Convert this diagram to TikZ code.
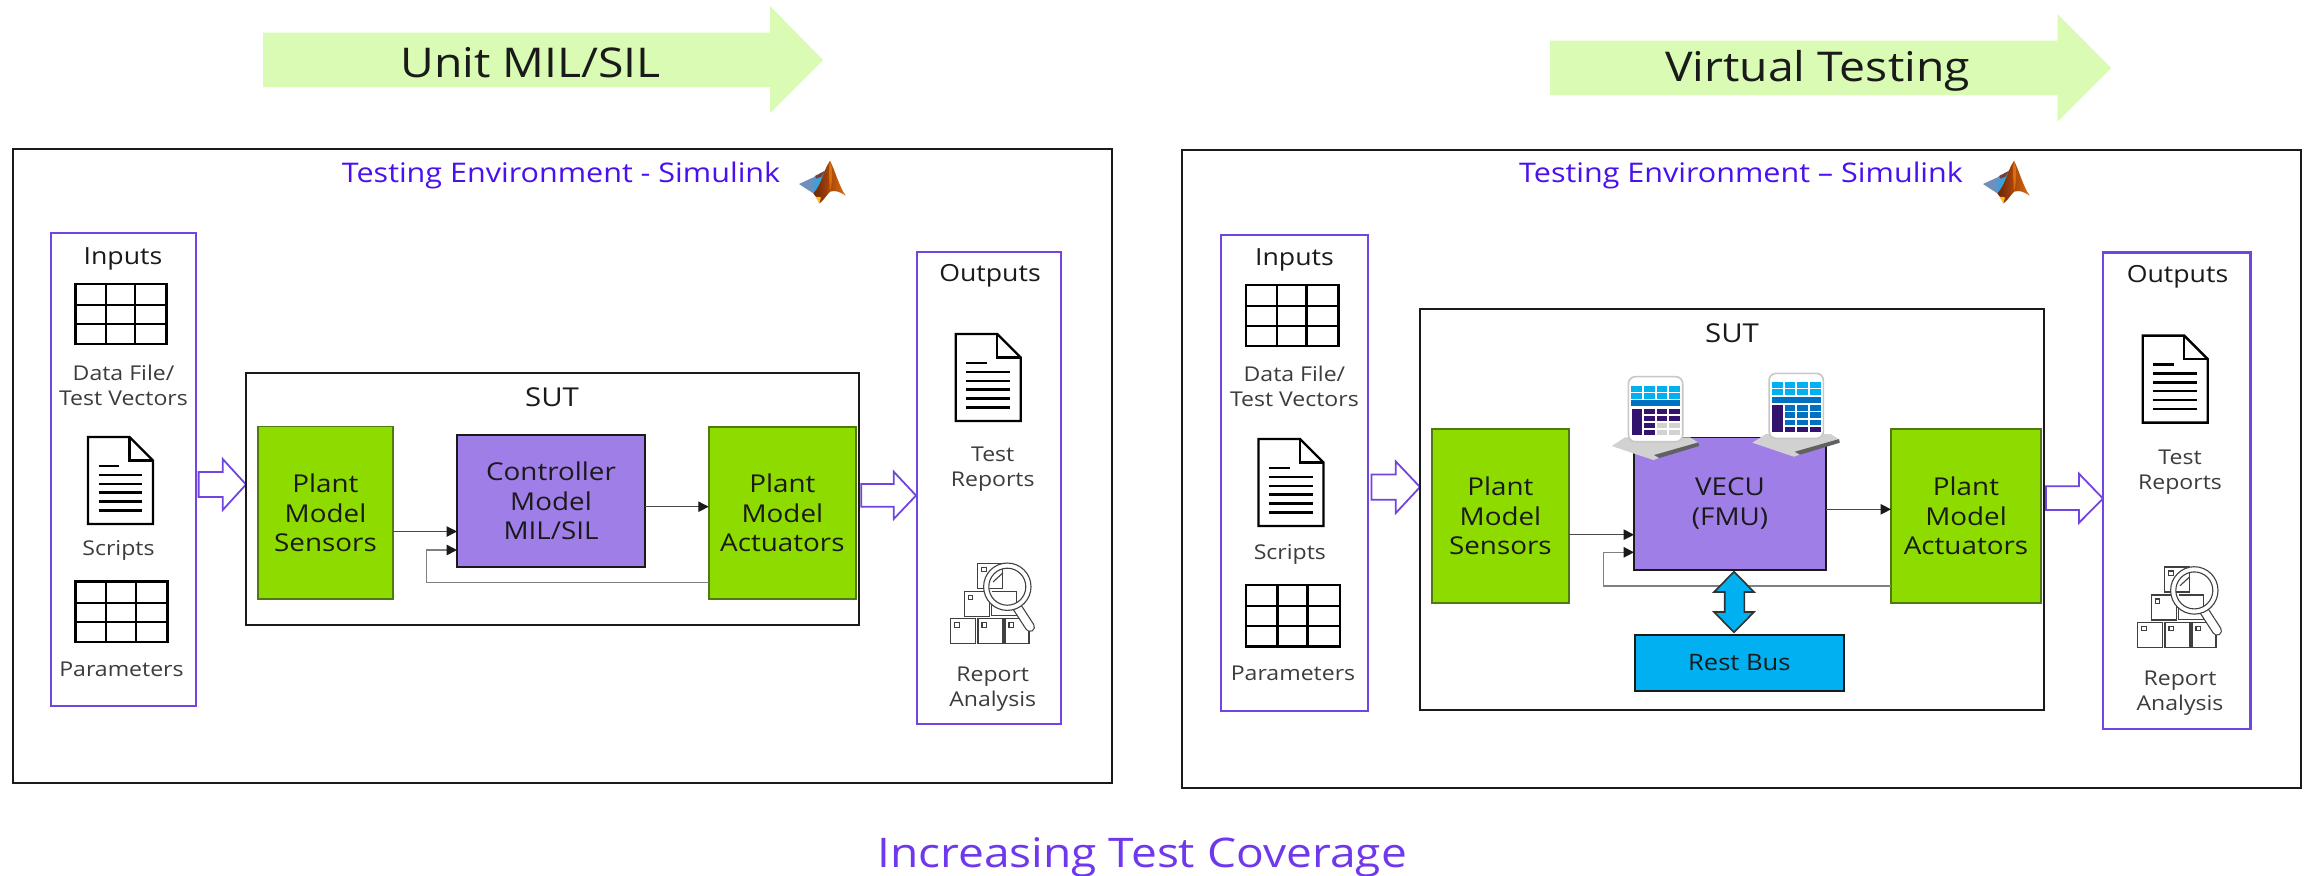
\documentclass[tikz,border=0pt]{standalone}
\usepackage{fontspec}
\setmainfont[FakeStretch=1.13]{Open Sans}
\usetikzlibrary{arrows.meta,calc}
\definecolor{envpurple}{HTML}{4A10EE}
\definecolor{framepurple}{HTML}{7045E0}
\definecolor{covpurple}{HTML}{7038EC}
\definecolor{plantgreen}{HTML}{8EDB00}
\definecolor{plantedge}{HTML}{4F7A10}
\definecolor{ctrlpurple}{HTML}{A07EE8}
\definecolor{busblue}{HTML}{00B0F0}
\definecolor{midblue}{HTML}{0070C0}
\definecolor{deeppurple}{HTML}{32136E}
\definecolor{cellgray}{HTML}{D2D2D2}
\definecolor{stagegreen}{HTML}{D9FBB4}
\definecolor{inkdark}{HTML}{1A1A1A}
\definecolor{wingblue}{HTML}{6E8FBF}
\definecolor{wingcyan}{HTML}{3F9FD8}
\definecolor{peakdark}{HTML}{6E2206}
\definecolor{peaklight}{HTML}{DE6C10}
\definecolor{peaktip}{HTML}{FFC20E}
\tikzset{
  x=0.5pt,y=-0.5pt,
  every node/.style={inner sep=0pt,outer sep=0pt,text=inkdark},
  envbox/.style={draw=inkdark,line width=1.1pt,fill=white},
  sutbox/.style={draw=inkdark,line width=0.9pt,fill=white},
  iobox/.style={draw=framepurple,line width=1.1pt,fill=white},
  plantbox/.style={draw=plantedge,line width=0.8pt,fill=plantgreen,align=center,font=\fontsize{12.3}{14.9}\selectfont},
  ctrlbox/.style={draw=inkdark,line width=0.8pt,fill=ctrlpurple,align=center,font=\fontsize{12.3}{14.9}\selectfont},
  busbox/.style={draw=inkdark,line width=0.9pt,fill=busblue,align=center,font=\fontsize{11.3}{14}\selectfont},
  smalltxt/.style={align=center,font=\fontsize{10.2}{12.6}\selectfont,text=inkdark!85,yshift=-0.8pt},
  headtxt/.style={align=center,font=\fontsize{11.8}{14}\selectfont,yshift=-1.2pt},
  suttxt/.style={align=center,font=\fontsize{13}{15}\selectfont},
  envtxt/.style={font=\fontsize{13.5}{16}\selectfont,text=envpurple,yshift=-1.2pt},
  stagetxt/.style={font=\fontsize{20.5}{24}\selectfont,yshift=-1.4pt},
  covtxt/.style={font=\fontsize{20.4}{25}\selectfont,text=covpurple,yshift=-1.8pt},
  conn/.style={draw=inkdark!80,line width=0.55pt,-{Triangle[length=5.2pt,width=5.2pt,color=inkdark,fill=inkdark]}},
  feedback/.style={draw=black!50,line width=0.75pt,-{Triangle[length=5.2pt,width=5.2pt,color=inkdark,fill=inkdark]}},
  hollowarrow/.style={draw=framepurple,line width=0.9pt,fill=white,line join=miter},
  stagearrow/.style={fill=stagegreen,draw=none},
  iconline/.style={draw=black,line width=1.2pt},
  thinicon/.style={draw=black!75,line width=0.55pt},
}
\newcommand{\boxnode}[7]{%
  \pgfmathsetmacro{\cxx}{(#3+#5)/2}\pgfmathsetmacro{\cyy}{(#4+#6)/2}%
  \node[#2,minimum width={(#5-(#3))*0.5pt},minimum height={(#6-(#4))*0.5pt}] (#1) at (\cxx,\cyy) {#7};}
\newcommand{\tableicon}[4]{%
  \draw[iconline] (#1,#2) rectangle (#3,#4);
  \foreach \cc in {0.335,0.655} {\draw[iconline] ($(#1,#2)!\cc!(#3,#2)$) -- ($(#1,#4)!\cc!(#3,#4)$);}
  \foreach \rr in {0.35,0.67} {\draw[iconline] ($(#1,#2)!\rr!(#1,#4)$) -- ($(#3,#2)!\rr!(#3,#4)$);}
}
\newcommand{\docicon}[2]{%
  \begin{scope}[shift={(#1,#2)}]
    \draw[iconline,line join=miter,fill=white] (0,0) -- (41.5,0) -- (65,23.5) -- (65,87) -- (0,87) -- cycle;
    \draw[iconline,line join=miter] (41.5,0) -- (41.5,23.5) -- (65,23.5);
    \draw[iconline] (10.5,29) -- (31,29);
    \foreach \yy in {38,47,55.5,64.5,73.5} {\draw[iconline] (10.5,\yy) -- (54,\yy);}
  \end{scope}}
\newcommand{\reporticon}[2]{%
  \begin{scope}[shift={(#1,#2)}]
    \foreach \bxx/\byy in {950.7/618.7,978/618.7,964.3/591.3,977.7/563.3} {
      \draw[thinicon] (\bxx,\byy) rectangle ++(25,25);
      \draw[thinicon] (\bxx+4,\byy+4) rectangle ++(4.5,4.5);}
    \draw[thinicon] (1005,618.7) rectangle (1029,643.7);
    \draw[thinicon] (1009,622.7) rectangle ++(4.5,4.5);
    \draw[thinicon] (991.7,591.3) rectangle (1016.7,615.7);
    \draw[black!75,line width=5pt,line cap=round] (1017,607) -- (1030,627);
    \draw[white,line width=3.8pt,line cap=round] (1017,607) -- (1030,627);
    \draw[thinicon,fill=white] (1007.3,586.7) circle (23.7);
    \draw[thinicon] (1007.3,586.7) circle (18.5);
    \begin{scope}
      \clip (1007.3,586.7) circle (18.5);
      \draw[thinicon] (1002.7,563.3) -- (1002.7,588.3) -- (977.7,588.3);
      \draw[thinicon] (993,582) -- (1002.7,573);
      \draw[thinicon] (991.7,591.3) -- (1016.7,591.3) -- (1016.7,610);
    \end{scope}
  \end{scope}}
\newcommand{\matlablogo}[2]{%
  \begin{scope}[shift={(780+#1,130+#2)},x=0.1667pt,y=-0.1667pt]
    \fill[wingblue] (57,162) -- (100,142) -- (112,135) -- (125,160) -- (100,190) -- cycle;
    \fill[peakdark!70!wingblue] (105,138) -- (135,122) -- (125,150) -- (112,150) -- cycle;
    \fill[wingcyan] (100,150) -- (125,140) -- (150,93) -- (125,160) -- (103,186) -- cycle;
    \shade[left color=peakdark,right color=peaklight]
      (150,93) .. controls (165,120) and (178,172) .. (197,197)
      .. controls (180,185) and (165,180) .. (150,185)
      .. controls (140,195) and (128,215) .. (118,220)
      .. controls (112,205) and (106,198) .. (100,190)
      .. controls (125,165) and (130,120) .. (150,93) -- cycle;
    \fill[peaklight] (150,93) .. controls (160,115) and (158,150) .. (150,185) .. controls (147,140) and (145,115) .. (150,93) -- cycle;
    \fill[peaktip] (107,200) -- (123,202) -- (118,220) -- cycle;
  \end{scope}}
\newcommand{\fmuicon}[7]{% dx dy rows12 r3c1 r3c23 r4c1 r4c23
  \begin{scope}[shift={(1580+#1,340+#2)},x=0.1667pt,y=-0.1667pt]
    \fill[black!18] (95,318) -- (135,292) -- (330,292) -- (355,308) -- (220,360) -- cycle;
    \fill[black!62] (222,345) -- (355,307) -- (357,318) -- (238,354) -- cycle;
    \draw[black!22,line width=0.8pt,fill=white,rounded corners=3.5pt] (145,110) rectangle (308,305);
    \foreach \cxa/\cxb in {153/187,192/224,230/262,267/300} {
      \fill[busblue] (\cxa,137) rectangle (\cxb,155);
      \fill[busblue] (\cxa,158) rectangle (\cxb,176);}
    \fill[midblue] (153,181) rectangle (300,199);
    \fill[deeppurple] (155,206) rectangle (187,286);
    \foreach \cxa/\cxb in {193/224,230/262,267/300} {
      \fill[#3] (\cxa,206) rectangle (\cxb,222);
      \fill[#3] (\cxa,227) rectangle (\cxb,244);}
    \fill[#4] (193,249) rectangle (224,265);
    \fill[#5] (230,249) rectangle (262,265);
    \fill[#5] (267,249) rectangle (300,265);
    \fill[#6] (193,270) rectangle (224,286);
    \fill[#7] (230,270) rectangle (262,286);
    \fill[#7] (267,270) rectangle (300,286);
  \end{scope}}
\begin{document}
\begin{tikzpicture}
\useasboundingbox (0,0) rectangle (2305,875);
\fill[white] (0,0) rectangle (2305,875);

% stage arrows
\fill[stagearrow] (263,32.7) -- (770,32.7) -- (770,6) -- (823,60) -- (770,113) -- (770,87) -- (263,87) -- cycle;
\node[stagetxt] (stageA) at (530.6,60) {Unit MIL/SIL};
\fill[stagearrow] (1550,40.7) -- (2057.5,40.7) -- (2057.5,14) -- (2111,68) -- (2057.5,121.7) -- (2057.5,95) -- (1550,95) -- cycle;
\node[stagetxt] (stageB) at (1817.5,68) {Virtual Testing};

% ---------- left panel ----------
\boxnode{envL}{envbox}{12.6}{149}{1111.7}{783}{}
\node[envtxt] (titleL) at (561,173.5) {Testing Environment - Simulink};
\matlablogo{0}{0}
\boxnode{inL}{iobox}{51}{233}{196}{706}{}
\node[headtxt] (inLh) at (123,256) {Inputs};
\tableicon{75.4}{284}{166.5}{344}
\node[smalltxt] (dataL) at (123.5,384) {Data File/\\Test Vectors};
\docicon{88}{437}
\node[smalltxt] (scrL) at (118.5,549) {Scripts};
\tableicon{75.4}{581.6}{167.6}{642}
\node[smalltxt] (parL) at (121.5,668) {Parameters};
\draw[hollowarrow] (198.6,472) -- (222.7,472) -- (222.7,459) -- (246,484.5) -- (222.7,510) -- (222.7,497) -- (198.6,497) -- cycle;

\boxnode{sutL}{sutbox}{246}{373}{859.3}{625}{}
\node[suttxt] (sutLt) at (552,397) {SUT};
\boxnode{senL}{plantbox}{258}{426.6}{393}{599}{Plant\\Model\\Sensors}
\boxnode{ctlL}{ctrlbox}{457}{435}{645}{566.7}{Controller\\Model\\MIL/SIL}
\boxnode{actL}{plantbox}{708.7}{426.7}{856}{599}{Plant\\Model\\Actuators}
\coordinate (yLa) at (0,531.5);
\coordinate (yLb) at (0,550);
\coordinate (yLc) at (0,506.7);
\coordinate (yLf) at (0,582.7);
\coordinate (xLf) at (426.7,0);
\draw[conn] (senL.east |- yLa) -- (ctlL.west |- yLa);
\draw[conn] (ctlL.east |- yLc) -- (actL.west |- yLc);
\draw[feedback] (actL.west |- yLf) -- (xLf |- yLf) -- (xLf |- yLb) -- (ctlL.west |- yLb);
\draw[hollowarrow] (861.3,484) -- (893.7,484) -- (893.7,471.7) -- (916,495.5) -- (893.7,519) -- (893.7,506.7) -- (861.3,506.7) -- cycle;

\boxnode{outL}{iobox}{916.7}{251.7}{1061}{723.7}{}
\node[headtxt] (outLh) at (990,273) {Outputs};
\docicon{955.7}{334}
\node[smalltxt] (repL) at (992.7,467.8) {Test\\Reports};
\reporticon{0}{0}
\node[smalltxt] (anaL) at (992.7,687.5) {Report\\Analysis};

% ---------- right panel ----------
\boxnode{envR}{envbox}{1182}{149.6}{2301}{788}{}
\node[envtxt] (titleR) at (1741,173.5) {Testing Environment – Simulink};
\matlablogo{1184}{0}
\boxnode{inR}{iobox}{1221}{235}{1368.3}{711}{}
\node[headtxt] (inRh) at (1294.4,257) {Inputs};
\tableicon{1245.8}{284.7}{1338.4}{346}
\node[smalltxt] (dataR) at (1294.4,385) {Data File/\\Test Vectors};
\docicon{1258.5}{439}
\node[smalltxt] (scrR) at (1289.8,553) {Scripts};
\tableicon{1245.8}{584.7}{1340}{646.3}
\node[smalltxt] (parR) at (1293,672) {Parameters};
\draw[hollowarrow] (1371.4,474.5) -- (1395.8,474.5) -- (1395.8,461.5) -- (1420,487) -- (1395.8,513) -- (1395.8,499.7) -- (1371.4,499.7) -- cycle;

\boxnode{sutR}{sutbox}{1420}{309}{2044}{710}{}
\node[suttxt] (sutRt) at (1732,333.6) {SUT};
\boxnode{senR}{plantbox}{1431.8}{429}{1569}{602.7}{Plant\\Model\\Sensors}
\boxnode{vecu}{ctrlbox}{1634}{437.3}{1826}{570}{VECU\\(FMU)}
\boxnode{actR}{plantbox}{1891}{429}{2041}{602.7}{Plant\\Model\\Actuators}
\boxnode{rest}{busbox}{1635}{634.7}{1843.7}{691}{Rest Bus}
\coordinate (yRa) at (0,534.7);
\coordinate (yRb) at (0,552.3);
\coordinate (yRc) at (0,509.3);
\coordinate (yRf) at (0,586);
\coordinate (xRf) at (1603.3,0);
\draw[conn] (senR.east |- yRa) -- (vecu.west |- yRa);
\draw[conn] (vecu.east |- yRc) -- (actR.west |- yRc);
\draw[feedback] (actR.west |- yRf) -- (xRf |- yRf) -- (xRf |- yRb) -- (vecu.west |- yRb);
\fmuicon{0}{0}{deeppurple}{deeppurple}{cellgray}{deeppurple}{cellgray}
\fmuicon{140.7}{-3.3}{midblue}{midblue}{midblue}{deeppurple}{deeppurple}
\draw[draw=inkdark!90,line width=0.8pt,fill=busblue,line join=miter]
  (1734,571.7) -- (1754,592) -- (1744.3,592) -- (1744.3,612) -- (1754,612) -- (1734,632.3)
  -- (1714,612) -- (1724.7,612) -- (1724.7,592) -- (1714,592) -- cycle;
\draw[hollowarrow] (2046,486.3) -- (2079,486.3) -- (2079,473.7) -- (2103,498.6) -- (2079,522.7) -- (2079,510) -- (2046,510) -- cycle;

\boxnode{outR}{iobox}{2102.8}{252.5}{2250.5}{728.6}{}
\node[headtxt] (outRh) at (2177.5,274.3) {Outputs};
\docicon{2142.7}{335.6}
\node[smalltxt] (repR) at (2180,470.5) {Test\\Reports};
\reporticon{1187}{3.7}
\node[smalltxt] (anaR) at (2180,691.7) {Report\\Analysis};

\node[covtxt] (cov) at (1142,854) {Increasing Test Coverage};
\end{tikzpicture}
\end{document}
